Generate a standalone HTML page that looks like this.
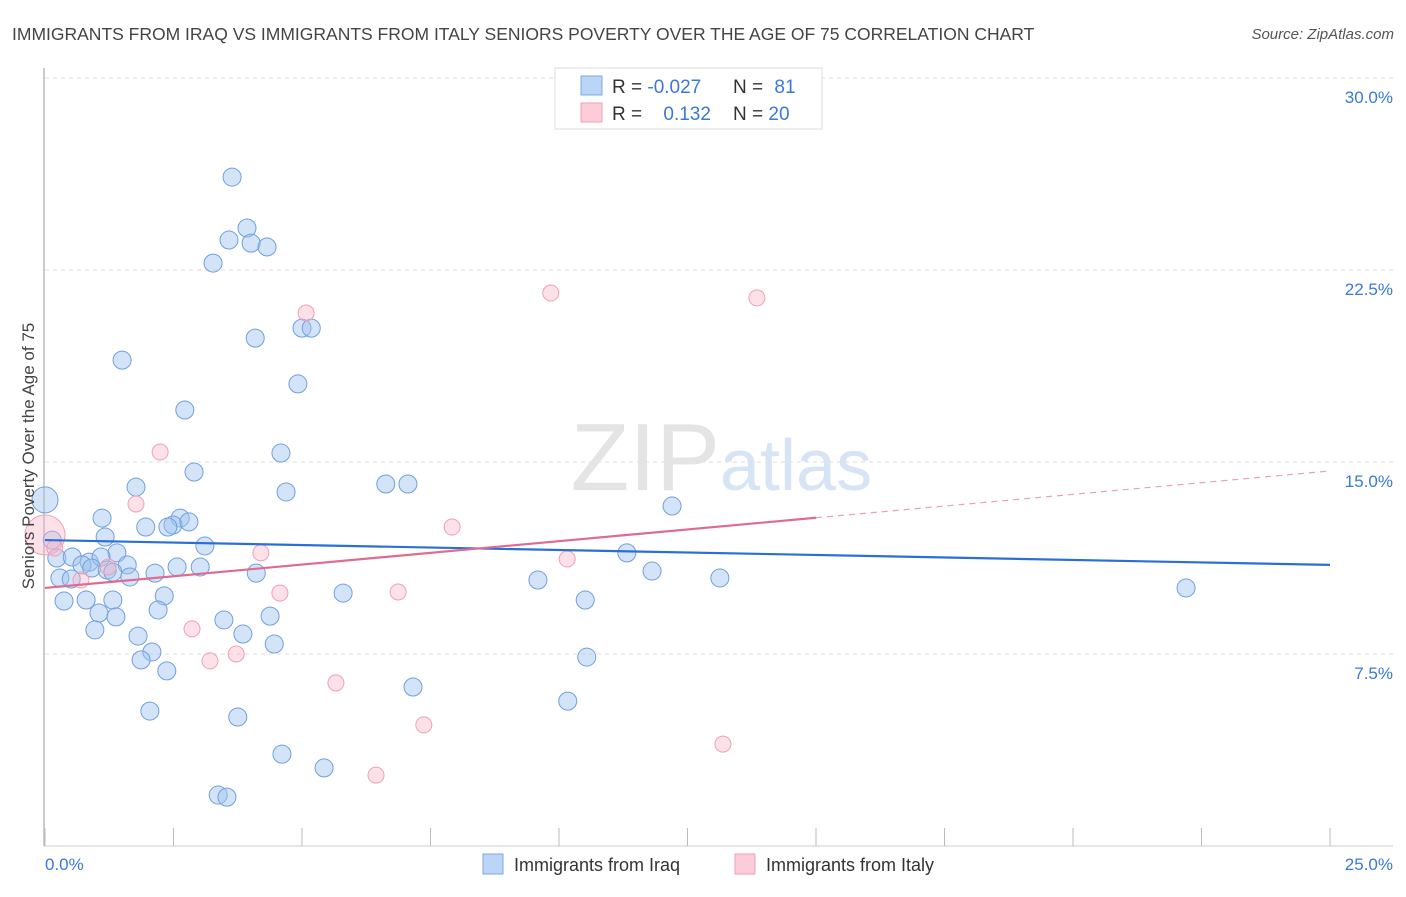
<!DOCTYPE html>
<html><head><meta charset="utf-8">
<style>
body{margin:0;background:#fff;font-family:"Liberation Sans",sans-serif;}
svg text{font-family:"Liberation Sans",sans-serif;}
</style></head>
<body>
<svg id="chart" width="1406" height="892" xmlns="http://www.w3.org/2000/svg">
<text x="12" y="40" font-size="17.5" fill="#444">IMMIGRANTS FROM IRAQ VS IMMIGRANTS FROM ITALY SENIORS POVERTY OVER THE AGE OF 75 CORRELATION CHART</text>
<text x="1394" y="39" font-size="15" fill="#555" text-anchor="end" font-style="italic">Source: ZipAtlas.com</text>
<g id="grid"></g>
<text x="720" y="490" font-size="96" fill="#e4e4e4" text-anchor="end" font-family="Liberation Serif">ZIP</text>
<text x="720" y="490" font-size="72" fill="#d6e4f5">atlas</text>
<line x1="44" y1="68" x2="44" y2="846" stroke="#bbb" stroke-width="1.5"/>
<line x1="44" y1="846" x2="1393" y2="846" stroke="#ccc" stroke-width="1"/>
<g id="ticks"></g>
<g id="points"></g>
<g id="lines"></g>
<text transform="translate(34,456) rotate(-90)" font-size="17" fill="#444" text-anchor="middle">Seniors Poverty Over the Age of 75</text>
<text x="45" y="870" font-size="17" fill="#3b78d8">0.0%</text>
<text x="1393" y="870" font-size="17" fill="#3b78d8" text-anchor="end">25.0%</text>
<g>
<rect x="555" y="68" width="267" height="61" fill="#fff" stroke="#ddd"/>
<rect x="581" y="76" width="21" height="19" fill="#bcd4f5" stroke="#7aa8e6"/>
<rect x="581" y="103" width="21" height="19" fill="#fcccd9" stroke="#f0a0b8"/>
<text x="612" y="93" font-size="19" fill="#333">R = <tspan fill="#3b78d8">-0.027</tspan></text>
<text x="733" y="93" font-size="19" fill="#333">N = <tspan fill="#3b78d8" dx="6">81</tspan></text>
<text x="612" y="120" font-size="19" fill="#333">R = <tspan fill="#3b78d8" dx="16">0.132</tspan></text>
<text x="733" y="120" font-size="19" fill="#333">N = <tspan fill="#3b78d8">20</tspan></text>
</g>
<g>
<rect x="483" y="854" width="20" height="20" fill="#bcd4f5" stroke="#7aa8e6"/>
<text x="514" y="871" font-size="18" fill="#333">Immigrants from Iraq</text>
</g>
<g>
<rect x="735" y="854" width="20" height="20" fill="#fcccd9" stroke="#f0a0b8"/>
<text x="766" y="871" font-size="18" fill="#333">Immigrants from Italy</text>
</g>
</svg>
<script>
const yTicks=[7.5,15,22.5,30];
const yTickLabels=["7.5%","15.0%","22.5%","30.0%"];
const xTicks=[0,2.5,5,7.5,10,12.5,15,17.5,20,22.5,25];
const iraqX=[0.0,3.64,3.93,3.58,4.01,4.32,3.27,4.09,5.00,5.18,1.50,4.92,2.72,4.59,2.90,1.77,4.69,6.63,7.06,1.11,2.63,2.49,2.80,1.96,2.39,12.20,1.17,3.11,0.14,1.40,11.32,0.23,0.53,0.86,1.09,1.60,0.72,0.91,1.21,1.32,2.57,3.02,2.14,1.65,11.81,4.11,13.13,0.29,0.51,9.59,22.20,5.80,2.32,0.37,0.80,1.32,10.51,2.20,1.05,1.38,4.38,3.48,0.97,1.81,3.85,4.46,2.08,1.87,10.54,2.37,7.16,10.17,2.04,3.75,4.61,5.43,3.37,3.54];
const iraqY=[13.52,26.13,24.14,23.67,23.55,23.40,22.77,19.84,20.23,20.23,18.98,18.05,17.03,15.35,14.61,14.02,13.83,14.14,14.14,12.81,12.81,12.54,12.66,12.46,12.46,13.28,12.07,11.72,11.95,11.45,11.45,11.25,11.29,11.09,11.29,10.98,10.98,10.86,10.78,10.70,10.90,10.90,10.66,10.51,10.74,10.66,10.47,10.47,10.43,10.39,10.08,9.88,9.77,9.57,9.61,9.61,9.61,9.22,9.10,8.95,8.98,8.83,8.44,8.20,8.28,7.89,7.58,7.27,7.38,6.84,6.21,5.66,5.27,5.04,3.59,3.05,1.99,1.91];
const italyX=[0.0,0.19,0.70,1.23,1.77,2.24,5.08,9.84,13.85,7.92,10.16,4.20,4.57,6.87,2.86,3.21,3.72,5.66,7.37,13.19,6.44];
const italyY=[12.15,11.64,10.39,10.90,13.36,15.39,20.82,21.60,21.41,12.46,11.21,11.45,9.88,9.92,8.48,7.23,7.50,6.37,4.73,3.98,2.77];
const iraqTrend=[11.95,10.98];
const italyTrend=[10.08,14.65];
const italySolidEnd=15.0;

const NS="http://www.w3.org/2000/svg";
const X=v=>45+v/25*1285;
const Y=v=>846-v/7.5*192;
function mk(tag,attrs,parent){const e=document.createElementNS(NS,tag);for(const k in attrs)e.setAttribute(k,attrs[k]);parent.appendChild(e);return e;}
const grid=document.getElementById('grid');
yTicks.forEach((t,i)=>{
 const l=mk('line',{x1:45,x2:1393,y1:Y(t),y2:Y(t),stroke:'#ddd','stroke-dasharray':'4,4'},grid);
 
 
 const tx=mk('text',{x:1393,y:Y(t)+25,'font-size':17,fill:'#3b78d8','text-anchor':'end'},grid);
 tx.textContent=yTickLabels[i];
 
 
});
const ticks=document.getElementById('ticks');
xTicks.forEach(t=>{
 const l=mk('line',{x1:X(t),x2:X(t),y1:828,y2:846,stroke:'#bbb'},ticks);
 
 
});
const pts=document.getElementById('points');
iraqX.forEach((x,i)=>{
 const c=mk('circle',{cx:X(x),cy:Y(iraqY[i]),r:i===0?13:9,fill:'rgba(160,195,240,0.45)',stroke:'#6f9fe0','stroke-width':1},pts);
 
 
});
italyX.forEach((x,i)=>{
 const c=mk('circle',{cx:X(x),cy:Y(italyY[i]),r:i===0?20:8,fill:'rgba(250,180,200,0.4)',stroke:'#eea0b6','stroke-width':1},pts);
 
 
});
const lines=document.getElementById('lines');
const bl=mk('line',{x1:X(0),y1:Y(iraqTrend[0]),x2:X(25),y2:Y(iraqTrend[1]),stroke:'#2a6fd6','stroke-width':2.2},lines);


const pAt=v=>italyTrend[0]+(italyTrend[1]-italyTrend[0])*v/25;
const pl=mk('line',{x1:X(0),y1:Y(italyTrend[0]),x2:X(italySolidEnd),y2:Y(pAt(italySolidEnd)),stroke:'#e06a92','stroke-width':2.2},lines);


const pd=mk('line',{x1:X(italySolidEnd),y1:Y(pAt(italySolidEnd)),x2:X(25),y2:Y(italyTrend[1]),stroke:'#e8a0b8','stroke-width':1.2,'stroke-dasharray':'6,5'},lines);


</script>
</body></html>
